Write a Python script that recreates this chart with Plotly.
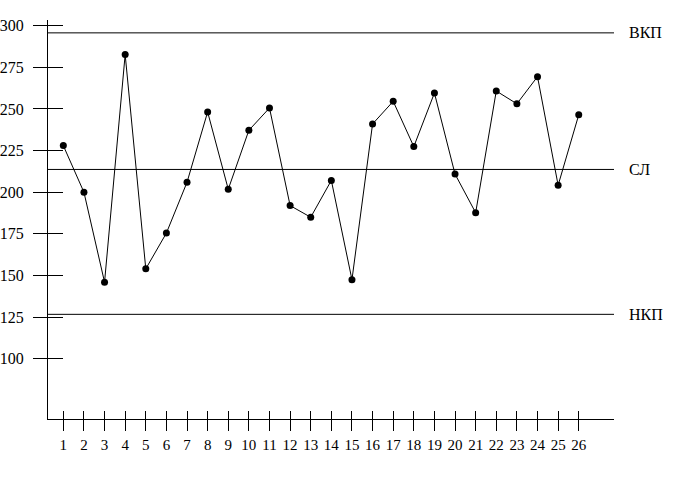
import plotly.graph_objects as go

samples = list(range(1, 27))
values = [228, 200, 146, 282.7, 154, 175.5, 206, 248.2, 201.8, 237.2, 250.6, 192, 185,
          207.1, 147.5, 241, 254.6, 227.4, 259.6, 210.9, 187.7, 260.8, 253.1, 269.4, 204.2, 246.5]
ucl = 295.7
cl = 213.7
lcl = 126.7
control_labels = ["ВКП", "СЛ", "НКП"]
y_ticks = [100, 125, 150, 175, 200, 225, 250, 275, 300]

FONT = "Liberation Serif"
yr = [63.85, 303.43]
xr = [0.257, 27.71]

fig = go.Figure()
fig.add_trace(go.Scatter(
    x=samples, y=values, mode="lines+markers",
    line=dict(color="black", width=1),
    marker=dict(color="black", size=7),
    showlegend=False, hoverinfo="skip"))
# empty trace to create the overlay axes (inner half of crossing ticks)
fig.add_trace(go.Scatter(x=[], y=[], xaxis="x2", yaxis="y2", showlegend=False))

for val, lab in zip([ucl, cl, lcl], control_labels):
    fig.add_shape(type="line", xref="paper", x0=0, x1=1, yref="y", y0=val, y1=val,
                  line=dict(color="black", width=1))
    fig.add_annotation(xref="paper", x=1, xanchor="left", xshift=13, yref="y", y=val,
                       yanchor="middle", text=lab, showarrow=False,
                       font=dict(family=FONT, size=16, color="black"))

fig.update_layout(
    width=679, height=478,
    margin=dict(l=48, r=65, t=20, b=59, autoexpand=False),
    paper_bgcolor="white", plot_bgcolor="white",
    font=dict(family=FONT, size=15, color="black"),
    xaxis=dict(range=xr, tickvals=samples, ticktext=[str(s) for s in samples],
               ticks="outside", ticklen=11, tickwidth=1, tickcolor="black",
               showline=True, linecolor="black", linewidth=1,
               showgrid=False, zeroline=False, fixedrange=True, automargin=False,
               ticklabelstandoff=1, tickfont=dict(family=FONT, size=15)),
    xaxis2=dict(range=xr, overlaying="x", side="bottom", tickvals=samples,
                ticks="inside", ticklen=8, tickwidth=1, tickcolor="black", automargin=False,
                showticklabels=False, showline=False, showgrid=False, zeroline=False),
    yaxis=dict(range=yr, tickvals=y_ticks, ticktext=[str(t) for t in y_ticks],
               ticks="outside", ticklen=14, tickwidth=1, tickcolor="black",
               showline=True, linecolor="black", linewidth=1,
               showgrid=False, zeroline=False, fixedrange=True, automargin=False,
               ticklabelstandoff=6, tickfont=dict(family=FONT, size=16)),
    yaxis2=dict(range=yr, overlaying="y", side="left", tickvals=y_ticks, automargin=False,
                ticks="inside", ticklen=15, tickwidth=1, tickcolor="black",
                showticklabels=False, showline=False, showgrid=False, zeroline=False),
)

fig.write_html("out.html", config={"displayModeBar": False},
               post_script="document.body.style.margin='0px';"
                           "document.body.style.overflow='hidden';")
